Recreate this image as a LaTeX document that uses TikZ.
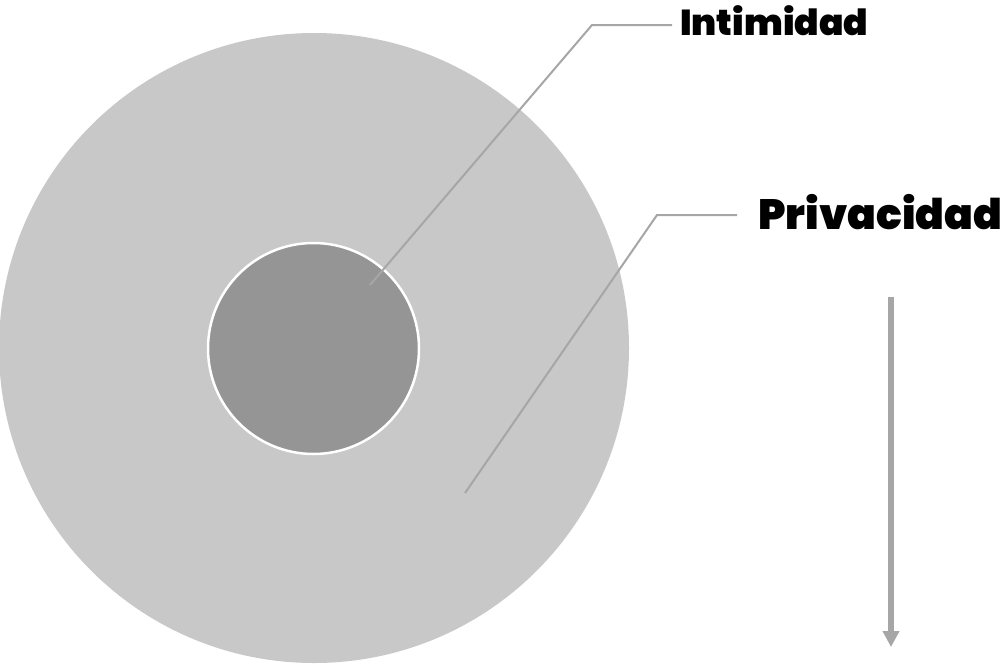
\documentclass[tikz,border=0pt]{standalone}
\usepackage{fontspec}
\usepackage{graphicx}
\newfontfamily\heavy{Poppins Black}[Ligatures=NoCommon]
\usetikzlibrary{arrows.meta}
\definecolor{outerg}{HTML}{C8C8C8}
\definecolor{innerg}{HTML}{959595}
\definecolor{lineg}{HTML}{A6A6A6}
\tikzset{
  disc/.style={circle, inner sep=0pt, outer sep=0pt},
  leader/.style={draw=lineg, line width=2pt},
  lbl/.style={anchor=base west, inner sep=0pt, font=\heavy},
}
\begin{document}
\begin{tikzpicture}[x=1pt,y=-1pt]
\useasboundingbox (0,0) rectangle (1008,664);
\node[disc, fill=outerg, minimum size=630pt] (priv) at (314,348) {};
\node[disc, fill=innerg, draw=white, line width=2.5pt, minimum size=211pt] (intim) at (313.5,348.5) {};
\coordinate (a1) at (370,285);
\coordinate (a2) at (592,25);
\coordinate (a3) at (672,25);
\coordinate (b1) at (465,493);
\coordinate (b2) at (657,215);
\coordinate (b3) at (737,215);
\draw[leader] (a1) -- (a2) -- (a3);
\draw[leader] (b1) -- (b2) -- (b3);
\node[lbl] (tI) at (680,35) {\resizebox{188pt}{!}{\heavy\fontsize{34}{36}\selectfont Intimidad}};
\node[lbl] (tP) at (758,229) {\resizebox{244pt}{!}{\heavy\fontsize{44}{48}\selectfont Privacidad}};
\coordinate (c1) at (891,297);
\coordinate (c2) at (891,647);
\draw[draw=lineg, line width=5.5pt, -{Triangle[length=16pt,width=16pt]}] (c1) -- (c2);
\end{tikzpicture}
\end{document}
